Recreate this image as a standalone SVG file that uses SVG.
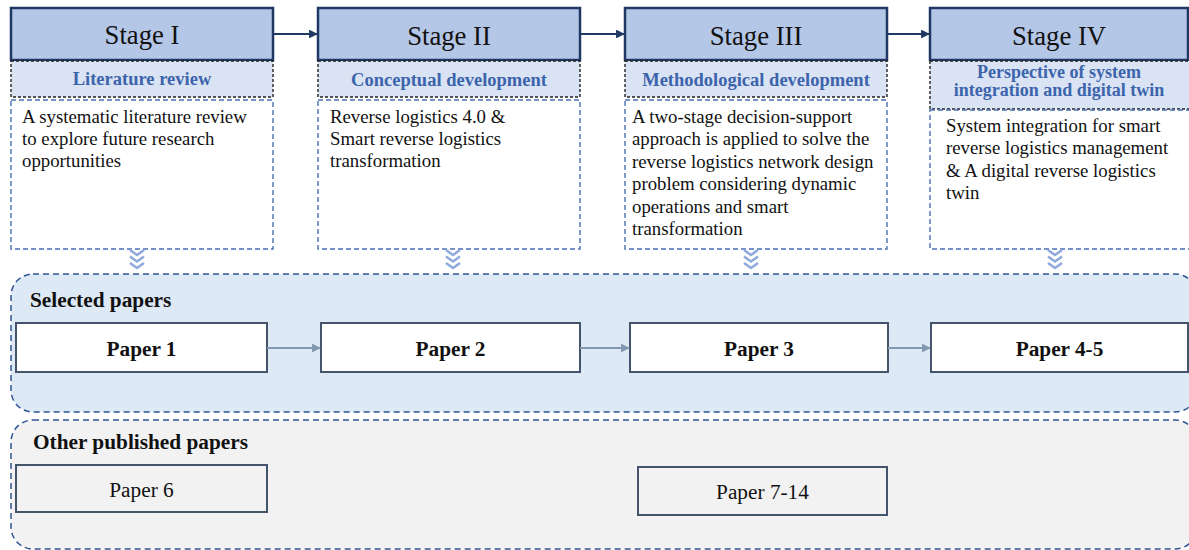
<svg xmlns="http://www.w3.org/2000/svg" width="1189" height="550" viewBox="0 0 1189 550" font-family="Liberation Serif, Times New Roman, serif">
<style>
  .stage { fill: #b4c7e7; stroke: #203864; stroke-width: 2.5; }
  .stitle { font-family: 'Liberation Serif', serif; font-size: 26.7px; fill: #111; text-anchor: middle; }
  .sub { fill: #dae3f3; stroke: #222; stroke-width: 1.4; stroke-dasharray: 3 2; }
  .subt { font-family: 'Liberation Serif', serif; font-size: 18.5px; font-weight: bold; fill: #3c64ac; text-anchor: middle; }
  .subt2 { font-family: 'Liberation Serif', serif; font-size: 18px; font-weight: bold; fill: #3c64ac; text-anchor: middle; }
  .desc { fill: #ffffff; stroke: #4a6fb5; stroke-width: 1.4; stroke-dasharray: 5 3; }
  .dt { font-family: 'Liberation Serif', serif; font-size: 18.8px; fill: #111; }
  .cont { stroke: #2f5597; stroke-width: 1.5; stroke-dasharray: 6 4; }
  .paper { fill: #ffffff; stroke: #44546a; stroke-width: 2; }
  .paper2 { fill: #f2f2f2; stroke: #44546a; stroke-width: 2; }
  .pt { font-family: 'Liberation Serif', serif; font-size: 21.3px; font-weight: bold; fill: #111; text-anchor: middle; }
  .pt2 { font-family: 'Liberation Serif', serif; font-size: 21.3px; fill: #111; text-anchor: middle; }
  .ct { font-family: 'Liberation Serif', serif; font-size: 21.3px; font-weight: bold; fill: #111; }
  .chev { fill: none; stroke: #8faadc; stroke-width: 2.6; }
  .sarrow { stroke: #203864; stroke-width: 2.2; fill: none; }
  .parrow { stroke: #8497b0; stroke-width: 2.2; fill: none; }
</style>
<defs>
  <marker id="ah1" viewBox="0 0 10 10" refX="9" refY="5" markerWidth="4" markerHeight="4" orient="auto">
    <path d="M0,0 L10,5 L0,10 z" fill="#203864"/>
  </marker>
  <marker id="ah2" viewBox="0 0 10 10" refX="9" refY="5" markerWidth="4" markerHeight="4" orient="auto">
    <path d="M0,0 L10,5 L0,10 z" fill="#8497b0"/>
  </marker>
  <g id="chevs">
    <polyline class="chev" points="-7,250 0,255 7,250"/>
    <polyline class="chev" points="-7,256.5 0,261.5 7,256.5"/>
    <polyline class="chev" points="-7,263 0,268 7,263"/>
  </g>
</defs>

<!-- Containers -->
<g id="selected-papers">
  <rect class="cont" x="11" y="274" width="1186" height="138" rx="22" fill="#dee9f6"/>
  <text class="ct" x="30" y="307">Selected papers</text>
</g>
<g id="other-papers">
  <rect class="cont" x="11" y="420" width="1186" height="129" rx="22" fill="#f2f2f2"/>
  <text class="ct" x="33" y="449">Other published papers</text>
</g>

<!-- Stage I -->
<g id="stage1">
  <rect class="stage" x="11" y="8" width="262" height="52"/>
  <text class="stitle" x="142" y="44">Stage I</text>
  <rect class="sub" x="11" y="61" width="262" height="36"/>
  <text class="subt" x="142" y="85">Literature review</text>
  <rect class="desc" x="11" y="100" width="262" height="149"/>
  <text class="dt" x="22" y="123">A systematic literature review</text>
  <text class="dt" x="22" y="145">to explore future research</text>
  <text class="dt" x="22" y="167">opportunities</text>
</g>

<!-- Stage II -->
<g id="stage2">
  <rect class="stage" x="318" y="8" width="262" height="52"/>
  <text class="stitle" x="449" y="45">Stage II</text>
  <rect class="sub" x="318" y="61" width="262" height="36"/>
  <text class="subt" x="449" y="86">Conceptual development</text>
  <rect class="desc" x="318" y="100" width="262" height="149"/>
  <text class="dt" x="330" y="123">Reverse logistics 4.0 &amp;</text>
  <text class="dt" x="330" y="145">Smart reverse logistics</text>
  <text class="dt" x="330" y="167">transformation</text>
</g>

<!-- Stage III -->
<g id="stage3">
  <rect class="stage" x="625" y="8" width="262" height="52"/>
  <text class="stitle" x="756" y="45">Stage III</text>
  <rect class="sub" x="625" y="61" width="262" height="36"/>
  <text class="subt" x="756" y="86">Methodological development</text>
  <rect class="desc" x="625" y="100" width="262" height="149"/>
  <text class="dt" x="632" y="123">A two-stage decision-support</text>
  <text class="dt" x="632" y="145.4">approach is applied to solve the</text>
  <text class="dt" x="632" y="167.8">reverse logistics network design</text>
  <text class="dt" x="632" y="190.2">problem considering dynamic</text>
  <text class="dt" x="632" y="212.6">operations and smart</text>
  <text class="dt" x="632" y="235">transformation</text>
</g>

<!-- Stage IV -->
<g id="stage4">
  <rect class="stage" x="930" y="8" width="258" height="52"/>
  <text class="stitle" x="1059" y="45">Stage IV</text>
  <rect class="sub" x="930" y="61" width="266" height="48"/>
  <text class="subt2" x="1059" y="78">Perspective of  system</text>
  <text class="subt2" x="1059" y="96">integration and digital twin</text>
  <rect class="desc" x="930" y="110" width="266" height="139"/>
  <text class="dt" x="946" y="132">System integration for smart</text>
  <text class="dt" x="946" y="154.4">reverse logistics management</text>
  <text class="dt" x="946" y="176.8">&amp; A digital reverse logistics</text>
  <text class="dt" x="946" y="199.2">twin</text>
</g>

<!-- Papers -->
<g id="paper1">
  <rect class="paper" x="16" y="323" width="251" height="49"/>
  <text class="pt" x="141.5" y="356">Paper 1</text>
</g>
<g id="paper2">
  <rect class="paper" x="321" y="323" width="259" height="49"/>
  <text class="pt" x="450.5" y="356">Paper 2</text>
</g>
<g id="paper3">
  <rect class="paper" x="630" y="323" width="258" height="49"/>
  <text class="pt" x="759" y="356">Paper 3</text>
</g>
<g id="paper45">
  <rect class="paper" x="931" y="323" width="257" height="49"/>
  <text class="pt" x="1059.5" y="356">Paper 4-5</text>
</g>
<g id="paper6">
  <rect class="paper2" x="16" y="465" width="251" height="47"/>
  <text class="pt2" x="141.5" y="497">Paper 6</text>
</g>
<g id="paper714">
  <rect class="paper2" x="638" y="467" width="249" height="48"/>
  <text class="pt2" x="762.5" y="499">Paper 7-14</text>
</g>

<!-- Connectors -->
<g id="connectors">
  <line class="sarrow" x1="273" y1="34" x2="317" y2="34" marker-end="url(#ah1)"/>
  <line class="sarrow" x1="580" y1="34" x2="624" y2="34" marker-end="url(#ah1)"/>
  <line class="sarrow" x1="887" y1="34" x2="929" y2="34" marker-end="url(#ah1)"/>
  <line class="parrow" x1="267" y1="348" x2="320" y2="348" marker-end="url(#ah2)"/>
  <line class="parrow" x1="580" y1="348" x2="629" y2="348" marker-end="url(#ah2)"/>
  <line class="parrow" x1="888" y1="348" x2="930" y2="348" marker-end="url(#ah2)"/>
  <use href="#chevs" x="137"/>
  <use href="#chevs" x="453"/>
  <use href="#chevs" x="751"/>
  <use href="#chevs" x="1055"/>
</g>
</svg>
